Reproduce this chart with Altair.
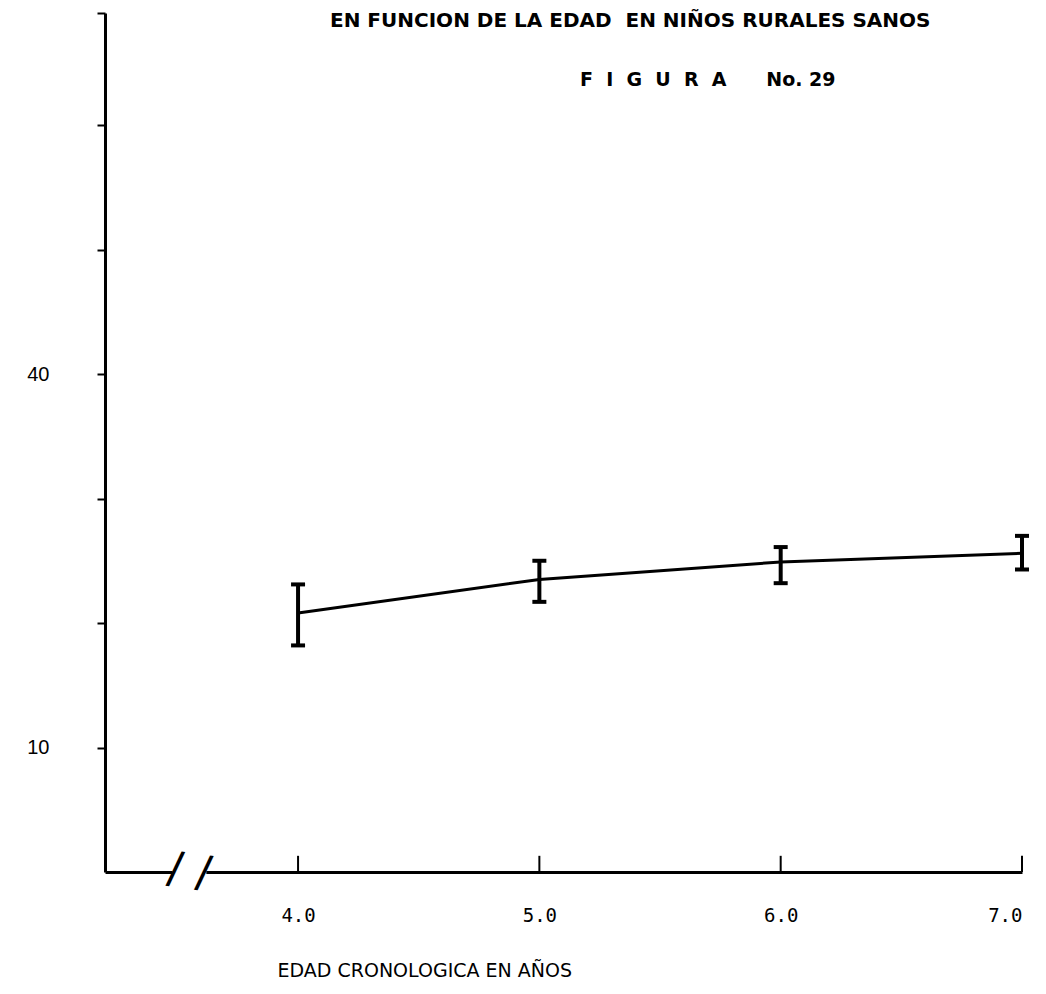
import altair as alt
import pandas as pd

# ---- data ----
edad = [4.0, 5.0, 6.0, 7.0]            # edad cronologica (años)
media = [20.8, 23.5, 24.9, 25.6]       # valor medio
limite_sup = [23.1, 25.0, 26.1, 27.0]  # media + error
limite_inf = [18.2, 21.7, 23.2, 24.3]  # media - error
x_tick_values = [4.0, 5.0, 6.0, 7.0]
y_tick_values = [10, 20, 30, 40, 50, 60, 69]
y_labelled = [10, 40]

NB = "\u00a0"
titulo = "EN FUNCION DE LA EDAD" + NB * 2 + "EN NIÑOS RURALES SANOS"
figura = (NB * 2).join(list("FIGURA")) + NB * 6 + "No." + NB + "29"
titulo_x = "EDAD CRONOLOGICA EN AÑOS"

X_DOMAIN = [3.2, 7.0]
Y_DOMAIN = [0, 69]
BREAK_X = 3.55

df = pd.DataFrame({"edad": edad, "media": media, "sup": limite_sup, "inf": limite_inf})
ticks_df = pd.DataFrame({"edad": x_tick_values, "y0": [0.0] * 4, "y1": [1.3] * 4})
brk_df = pd.DataFrame({"x": [BREAK_X - 0.07], "x2": [BREAK_X + 0.07], "y": [-0.5], "y2": [0.5], "xc": [BREAK_X], "yc": [0.0]})

xs = alt.Scale(domain=X_DOMAIN, nice=False, zero=False)
ys = alt.Scale(domain=Y_DOMAIN, nice=False, zero=False)

label_expr = "indexof([" + ",".join(str(v) for v in y_labelled) + "], datum.value) >= 0 ? datum.label : ''"

x_axis = alt.Axis(
    values=x_tick_values, format=".1f", ticks=False, grid=False,
    domainColor="black", domainWidth=3, labelFont="DejaVu Sans Mono",
    labelFontSize=19, labelColor="black", labelPadding=34,
    title=titulo_x, titleFont="DejaVu Sans", titleFontSize=19,
    titleFontWeight="normal", titleColor="black", titleAnchor="start",
    titleAlign="left", titleX=172, titleY=98, titleBaseline="middle",
)
y_axis = alt.Axis(
    values=y_tick_values, format="d", labelExpr=label_expr, grid=False,
    domainColor="black", domainWidth=3, tickColor="black", tickWidth=2,
    tickSize=8, labelPadding=48, labelFont="Liberation Sans",
    labelFontSize=20, labelColor="black", title=None,
)

base = alt.Chart(df)

line = base.mark_line(color="black", strokeWidth=3).encode(
    x=alt.X("edad:Q", scale=xs, axis=x_axis),
    y=alt.Y("media:Q", scale=ys, axis=y_axis),
)
bars = base.mark_rule(color="black", strokeWidth=4).encode(
    x="edad:Q", y="inf:Q", y2="sup:Q"
)
cap_top = base.mark_tick(color="black", opacity=1, orient="horizontal", size=14, thickness=4).encode(
    x="edad:Q", y="sup:Q"
)
cap_bot = base.mark_tick(color="black", opacity=1, orient="horizontal", size=14, thickness=4).encode(
    x="edad:Q", y="inf:Q"
)
xticks = alt.Chart(ticks_df).mark_rule(color="black", strokeWidth=2).encode(
    x="edad:Q", y="y0:Q", y2="y1:Q"
)
gap = alt.Chart(brk_df).mark_rect(color="white").encode(
    x="x:Q", x2="x2:Q", y="y:Q", y2="y2:Q"
)
brk = alt.Chart(brk_df).mark_text(
    text="/ /", fontSize=44, font="DejaVu Sans", color="black", angle=8
).encode(x="xc:Q", y="yc:Q")

one = pd.DataFrame({"t": [0]})
t1 = alt.Chart(one).mark_text(
    text=titulo, font="DejaVu Sans", fontSize=20, fontWeight="bold",
    align="left", baseline="middle", color="black"
).encode(x=alt.value(225), y=alt.value(8))
t2 = alt.Chart(one).mark_text(
    text=figura, font="DejaVu Sans", fontSize=19, fontWeight="bold",
    align="left", baseline="middle", color="black"
).encode(x=alt.value(475), y=alt.value(67))

chart = alt.layer(gap, line, bars, cap_top, cap_bot, xticks, brk, t1, t2).properties(
    width=917, height=859,
    autosize=alt.AutoSizeParams(type="none"),
    padding={"left": 97, "top": 5, "right": 10, "bottom": 111},
    background="white",
).configure_view(stroke=None)

chart.save("out.html", embed_options={"renderer": "svg", "actions": False})
